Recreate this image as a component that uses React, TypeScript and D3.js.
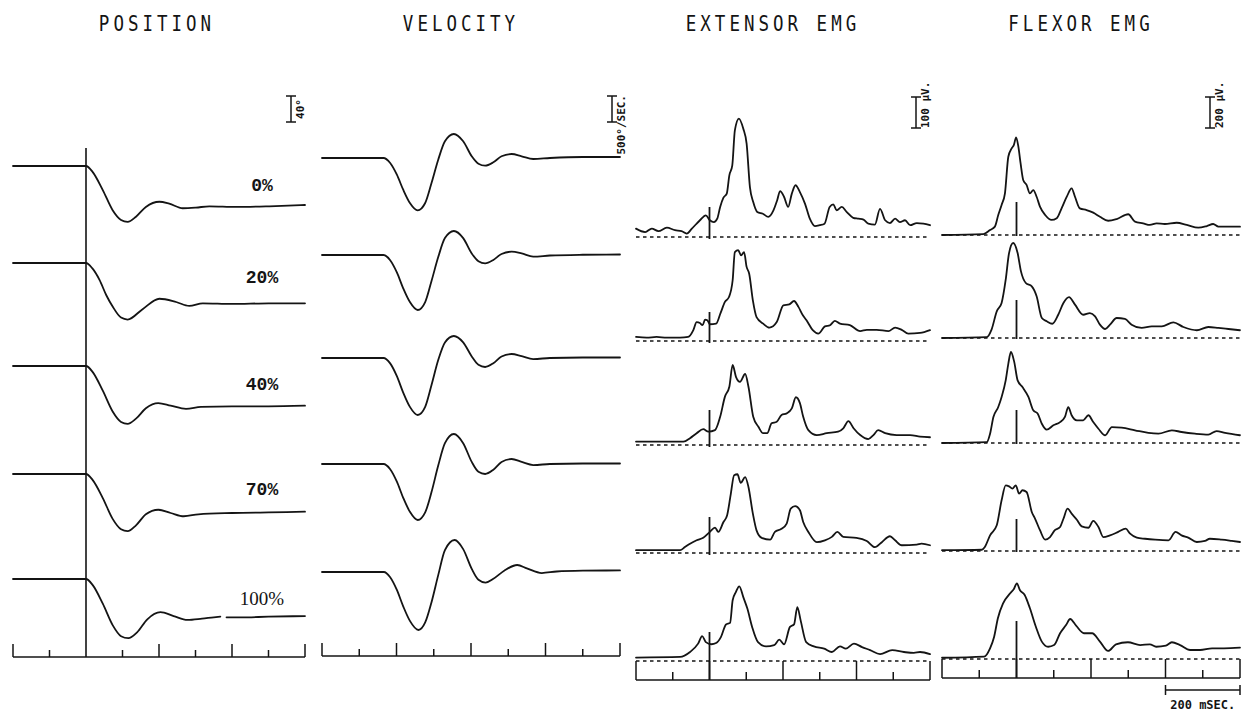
import React from 'react';
import * as d3 from 'd3';

type Pt = [number, number];

const WIDTH = 1244;
const HEIGHT = 715;

const panelTitles = ['POSITION', 'VELOCITY', 'EXTENSOR EMG', 'FLEXOR EMG'];
const conditionLabels = ['0%', '20%', '40%', '70%', '100%'];
const timeDomain: [number, number] = [-200, 600];
const timeTicks = [-200, -100, 0, 100, 200, 300, 400, 500, 600];

// Scale-bar units
const positionUnit = 40; // degrees
const velocityUnit = 500; // deg/sec
const extensorUnit = 100; // µV
const flexorUnit = 200; // µV
const timeBarMs = 200;

// Wrist position (deg), [ms, value]; NaN marks a break in the pen trace
const position0: Pt[] = [[-200, 0], [0, 0], [18, -9], [46, -37], [73, -68], [96, -83], [114, -86], [137, -78], [164, -63], [201, -55], [228, -58], [265, -65], [301, -64], [338, -62], [411, -63], [502, -62], [600, -60]];
const position20: Pt[] = [[-200, 0], [0, 0], [17, -8], [37, -26], [56, -50], [73, -67], [96, -84], [114, -87], [155, -71], [201, -55], [247, -60], [283, -66], [320, -62], [400, -63], [500, -62], [600, -62]];
const position40: Pt[] = [[-200, 0], [0, 0], [18, -9], [46, -38], [73, -70], [96, -86], [114, -89], [137, -81], [164, -65], [198, -57], [232, -61], [274, -66], [315, -63], [400, -62], [500, -62], [600, -61]];
const position70: Pt[] = [[-200, 0], [0, 0], [18, -9], [46, -37], [73, -69], [96, -85], [114, -88], [137, -79], [164, -62], [198, -55], [232, -60], [268, -65], [308, -62], [400, -60], [500, -59], [600, -58]];
const position100: Pt[] = [[-200, 0], [0, 0], [18, -9], [46, -38], [73, -71], [96, -88], [116, -91], [140, -82], [168, -62], [204, -51], [240, -57], [278, -63], [318, -61], [350, -59], [368, -58], [376, NaN], [385, -59], [424, -59], [500, -58], [600, -57]];
const positionSeries = [position0, position20, position40, position70, position100];

// Angular velocity (deg/sec)
const velocity0: Pt[] = [[-200, 0], [-35, 0], [-17, -96], [1, -321], [18, -610], [36, -865], [57, -1006], [77, -865], [94, -481], [112, -33], [130, 321], [154, 462], [179, 321], [202, 33], [220, -110], [238, -148], [260, -83], [282, 33], [309, 77], [336, 33], [367, -19], [412, 0], [500, 19], [600, 19]];
const velocity20: Pt[] = [[-200, 0], [-35, 0], [-17, -100], [1, -335], [18, -640], [36, -905], [57, -1058], [77, -905], [94, -500], [112, -40], [130, 325], [154, 462], [179, 325], [202, 30], [220, -120], [238, -160], [260, -95], [282, 20], [309, 64], [336, 30], [367, -32], [412, -10], [500, 5], [600, 10]];
const velocity40: Pt[] = [[-200, 0], [-35, 0], [-17, -104], [1, -350], [18, -665], [36, -940], [57, -1096], [77, -940], [94, -520], [112, -40], [130, 300], [154, 423], [179, 300], [202, 30], [220, -130], [238, -173], [260, -100], [282, 30], [309, 77], [336, 35], [367, -20], [412, 0], [500, 10], [600, 10]];
const velocity70: Pt[] = [[-200, 0], [-35, 0], [-17, -100], [1, -340], [18, -650], [36, -920], [57, -1077], [77, -930], [94, -540], [112, -30], [130, 400], [154, 577], [179, 400], [202, 40], [220, -150], [238, -192], [260, -110], [282, 40], [309, 96], [336, 40], [367, -20], [412, 0], [500, 10], [600, 10]];
const velocity100: Pt[] = [[-200, 0], [-34, 0], [-17, -100], [1, -345], [18, -660], [36, -940], [59, -1115], [77, -970], [94, -580], [112, -60], [130, 420], [156, 615], [179, 440], [202, 60], [220, -150], [239, -204], [260, -130], [290, 30], [324, 135], [350, 70], [390, -20], [430, 10], [500, 25], [600, 30]];
const velocitySeries = [velocity0, velocity20, velocity40, velocity70, velocity100];

// Rectified extensor EMG (µV)
const extensor0: Pt[] = [[-200, 27], [-175, 16], [-157, 27], [-139, 19], [-116, 30], [-94, 22], [-76, 19], [-62, 11], [-48, 27], [-26, 54], [-10, 70], [1, 54], [12, 48], [21, 59], [29, 97], [38, 127], [47, 140], [54, 199], [62, 231], [69, 344], [80, 382], [92, 349], [101, 301], [110, 161], [119, 113], [130, 81], [145, 75], [160, 65], [174, 86], [184, 118], [192, 148], [203, 129], [214, 97], [224, 140], [234, 167], [246, 145], [260, 107], [273, 59], [287, 35], [300, 38], [313, 43], [327, 97], [337, 105], [346, 86], [360, 97], [373, 81], [391, 62], [405, 59], [419, 56], [432, 43], [450, 40], [464, 91], [478, 54], [491, 45], [505, 59], [518, 48], [532, 54], [546, 38], [564, 45], [582, 43], [600, 38]];
const extensor20: Pt[] = [[-200, 13], [-171, 11], [-144, 13], [-116, 11], [-80, 11], [-58, 13], [-44, 35], [-35, 61], [-26, 58], [-19, 51], [-12, 69], [-6, 67], [1, 54], [18, 56], [30, 90], [42, 126], [53, 142], [63, 196], [69, 287], [78, 293], [86, 276], [94, 287], [101, 239], [108, 217], [118, 131], [128, 77], [146, 56], [163, 43], [183, 61], [201, 115], [217, 118], [230, 129], [242, 110], [254, 83], [264, 67], [281, 35], [296, 24], [314, 47], [328, 51], [341, 65], [355, 56], [382, 51], [410, 32], [428, 36], [455, 36], [487, 32], [505, 43], [523, 36], [541, 24], [573, 26], [600, 35]];
const extensor40: Pt[] = [[-200, 11], [-71, 11], [-53, 22], [-35, 38], [-17, 51], [-3, 43], [15, 48], [29, 91], [42, 156], [54, 188], [63, 258], [72, 220], [83, 204], [97, 229], [106, 188], [119, 91], [133, 59], [146, 38], [157, 38], [169, 70], [183, 75], [196, 97], [210, 102], [224, 118], [235, 154], [246, 135], [255, 91], [269, 48], [292, 32], [319, 38], [350, 43], [364, 54], [378, 77], [392, 54], [410, 32], [432, 19], [446, 32], [459, 48], [478, 38], [509, 32], [546, 32], [573, 27], [600, 25]];
const extensor70: Pt[] = [[-200, 9], [-80, 9], [-67, 19], [-53, 30], [-35, 41], [-17, 49], [1, 68], [15, 82], [24, 68], [38, 100], [48, 122], [58, 191], [67, 251], [76, 254], [85, 226], [97, 245], [106, 213], [118, 127], [128, 73], [142, 49], [165, 43], [178, 68], [196, 78], [210, 95], [221, 143], [233, 151], [246, 138], [255, 100], [269, 68], [292, 35], [314, 41], [333, 52], [348, 68], [364, 52], [400, 49], [428, 39], [450, 19], [469, 35], [491, 54], [505, 41], [523, 25], [564, 27], [577, 30], [600, 25]];
const extensor100: Pt[] = [[-200, 11], [-80, 13], [-53, 29], [-31, 56], [-20, 80], [-10, 61], [5, 54], [18, 58], [31, 77], [45, 118], [56, 123], [63, 196], [72, 223], [81, 241], [92, 206], [103, 169], [116, 110], [132, 61], [154, 47], [176, 51], [190, 69], [203, 54], [219, 110], [230, 118], [239, 174], [248, 131], [263, 61], [284, 47], [312, 40], [333, 29], [355, 47], [371, 40], [393, 56], [415, 45], [437, 35], [464, 22], [497, 35], [529, 29], [556, 26], [573, 29], [600, 22]];
const extensorSeries = [extensor0, extensor20, extensor40, extensor70, extensor100];

// Rectified flexor EMG (µV)
const flexor0: Pt[] = [[-200, 0], [-89, 6], [-71, 32], [-58, 54], [-49, 129], [-40, 194], [-31, 269], [-22, 505], [-13, 559], [-7, 581], [-1, 630], [5, 570], [11, 462], [18, 355], [27, 323], [36, 269], [45, 290], [54, 247], [63, 183], [77, 129], [94, 97], [108, 108], [121, 172], [135, 247], [148, 301], [157, 247], [170, 172], [188, 161], [206, 144], [224, 118], [246, 92], [269, 103], [300, 134], [318, 86], [340, 75], [358, 65], [376, 75], [398, 71], [430, 79], [457, 65], [488, 47], [511, 58], [528, 71], [542, 54], [573, 54], [600, 54]];
const flexor20: Pt[] = [[-200, 0], [-80, 5], [-67, 54], [-53, 172], [-40, 226], [-29, 376], [-20, 548], [-9, 613], [3, 548], [12, 430], [25, 355], [41, 333], [54, 269], [68, 129], [81, 108], [96, 92], [112, 150], [126, 226], [141, 264], [157, 215], [179, 150], [197, 161], [211, 140], [224, 86], [238, 58], [251, 86], [269, 129], [291, 123], [309, 86], [336, 65], [363, 75], [390, 75], [421, 101], [448, 71], [484, 50], [515, 71], [542, 65], [569, 58], [600, 50]];
const flexor40: Pt[] = [[-200, 0], [-80, 5], [-71, 60], [-62, 168], [-49, 232], [-40, 297], [-29, 404], [-22, 511], [-15, 587], [-6, 522], [3, 404], [16, 361], [32, 297], [45, 211], [57, 189], [68, 124], [81, 86], [99, 114], [117, 135], [130, 168], [139, 232], [148, 179], [162, 146], [179, 146], [193, 179], [206, 135], [220, 92], [238, 50], [256, 103], [282, 99], [318, 82], [354, 65], [381, 60], [417, 82], [443, 71], [479, 60], [515, 54], [537, 77], [560, 65], [600, 50]];
const flexor70: Pt[] = [[-200, 5], [-93, 8], [-85, 26], [-71, 101], [-53, 166], [-40, 327], [-29, 424], [-20, 417], [-11, 402], [-2, 424], [7, 370], [16, 392], [27, 381], [41, 252], [50, 208], [63, 134], [77, 73], [90, 90], [103, 134], [117, 155], [126, 208], [137, 273], [148, 241], [162, 202], [175, 159], [193, 150], [206, 194], [220, 155], [233, 90], [251, 101], [273, 123], [293, 144], [305, 112], [323, 86], [345, 79], [372, 73], [408, 69], [427, 123], [443, 101], [461, 86], [484, 58], [506, 65], [519, 79], [551, 73], [578, 65], [600, 58]];
const flexor100: Pt[] = [[-200, 8], [-87, 15], [-71, 69], [-60, 144], [-50, 263], [-36, 359], [-17, 424], [-7, 452], [1, 488], [9, 445], [22, 413], [36, 327], [52, 208], [68, 112], [85, 79], [101, 90], [117, 166], [133, 219], [144, 258], [160, 215], [181, 166], [203, 166], [224, 112], [246, 52], [267, 95], [299, 108], [332, 90], [358, 95], [375, 79], [401, 86], [417, 108], [439, 90], [466, 58], [493, 58], [525, 69], [557, 69], [600, 73]];
const flexorSeries = [flexor0, flexor20, flexor40, flexor70, flexor100];

// Layout: baseline of each condition row in each column
const positionBase = [166, 263, 366, 474, 579];
const velocityBase = [158, 255, 358, 464, 572];
const extensorBase = [237, 341, 445, 553, 661];
const flexorBase = [235, 338, 443, 551, 659];
const extensorMarkTop = [30, 29, 35, 36, 29];
const flexorMarkTop = [33, 38, 33, 32, 38];
const labelY = [191, 283, 390, 495, 605];

const INK = '#141414';
const MONO = '"DejaVu Sans Mono", monospace';

function Trace({ data, x, base, k }: { data: Pt[]; x: d3.ScaleLinear<number, number>; base: number; k: d3.ScaleLinear<number, number> }) {
  const line = d3
    .line<Pt>()
    .defined((d) => Number.isFinite(d[1]))
    .x((d) => x(d[0]))
    .y((d) => base - k(d[1]))
    .curve(d3.curveMonotoneX);
  return <path d={line(data) ?? ''} fill="none" stroke={INK} strokeWidth={1.8} strokeLinejoin="round" strokeLinecap="round" />;
}

function ScaleBar({ x, bottom, k, value, label, anchor }: { x: number; bottom: number; k: d3.ScaleLinear<number, number>; value: number; label: string; anchor: 'start' | 'middle' | 'end' }) {
  const top = bottom - k(value);
  const ly = anchor === 'start' ? bottom : anchor === 'end' ? top - 1 : (top + bottom) / 2;
  return (
    <g stroke={INK} strokeWidth={1.5}>
      <line x1={x} x2={x} y1={top} y2={bottom} />
      <line x1={x - 5} x2={x + 5} y1={top} y2={top} />
      <line x1={x - 5} x2={x + 5} y1={bottom} y2={bottom} />
      <text
        x={0}
        y={0}
        transform={`translate(${x + 13},${ly}) rotate(-90)`}
        textAnchor={anchor}
        fontFamily={MONO}
        fontWeight="bold"
        fontSize={11}
        fill={INK}
        stroke="none"
      >
        {label}
      </text>
    </g>
  );
}

function TickAxis({ x, y, skipZero }: { x: d3.ScaleLinear<number, number>; y: number; skipZero: boolean }) {
  return (
    <g stroke={INK} strokeWidth={1.5}>
      <line x1={x(timeDomain[0])} x2={x(timeDomain[1])} y1={y} y2={y} />
      {timeTicks
        .filter((t) => !(skipZero && t === 0))
        .map((t) => (
          <line key={t} x1={x(t)} x2={x(t)} y1={y} y2={y - (t % 200 === 0 ? 13 : 7)} />
        ))}
    </g>
  );
}

function BoxAxis({ x, top, bottom }: { x: d3.ScaleLinear<number, number>; top: number; bottom: number }) {
  return (
    <g stroke={INK} strokeWidth={1.5}>
      <line x1={x(timeDomain[0])} x2={x(timeDomain[1])} y1={bottom} y2={bottom} />
      {timeTicks.map((t) => (
        <line key={t} x1={x(t)} x2={x(t)} y1={bottom} y2={t % 200 === 0 ? top : bottom - 8} />
      ))}
    </g>
  );
}

export default function App() {
  const posX = d3.scaleLinear().domain(timeDomain).range([13, 305]);
  const velX = d3.scaleLinear().domain(timeDomain).range([322, 620]);
  const extX = d3.scaleLinear().domain(timeDomain).range([636, 930]);
  const flexX = d3.scaleLinear().domain(timeDomain).range([942, 1240]);

  const posK = d3.scaleLinear().domain([0, positionUnit]).range([0, 26]);
  const velK = d3.scaleLinear().domain([0, velocityUnit]).range([0, 26]);
  const extK = d3.scaleLinear().domain([0, extensorUnit]).range([0, 31]);
  const flexK = d3.scaleLinear().domain([0, flexorUnit]).range([0, 31]);

  const titleX = [157, 461, 773, 1081];

  return (
    <svg
      width={WIDTH}
      height={HEIGHT}
      viewBox={`0 0 ${WIDTH} ${HEIGHT}`}
      style={{ position: 'absolute', left: 0, top: 0, background: '#fff' }}
    >
      <rect width={WIDTH} height={HEIGHT} fill="#fff" />

      {panelTitles.map((t, i) => (
        <text
          key={t}
          x={0}
          y={0}
          transform={`translate(${titleX[i]},31) scale(1,1.22)`}
          textAnchor="middle"
          fontFamily={MONO}
          fontSize={17.5}
          letterSpacing={4}
          fill={INK}
        >
          {t}
        </text>
      ))}

      <ScaleBar x={291} bottom={122} k={posK} value={positionUnit} label="40°" anchor="middle" />
      <ScaleBar x={612} bottom={122} k={velK} value={velocityUnit} label="500°/SEC." anchor="end" />
      <ScaleBar x={916} bottom={128} k={extK} value={extensorUnit} label="100 µV." anchor="start" />
      <ScaleBar x={1210} bottom={128} k={flexK} value={flexorUnit} label="200 µV." anchor="start" />

      {/* Position column */}
      <line x1={posX(0)} x2={posX(0)} y1={148} y2={657} stroke={INK} strokeWidth={1.6} />
      {positionSeries.map((d, i) => (
        <Trace key={i} data={d} x={posX} base={positionBase[i]} k={posK} />
      ))}
      {conditionLabels.map((c, i) => (
        <text
          key={c}
          x={262}
          y={labelY[i]}
          textAnchor="middle"
          fontFamily={i === 4 ? '"Liberation Serif", serif' : '"Liberation Mono", monospace'}
          fontWeight={i === 4 ? 'normal' : 'bold'}
          fontSize={i === 4 ? 19 : 18}
          fill={INK}
        >
          {c}
        </text>
      ))}
      <TickAxis x={posX} y={657} skipZero />

      {/* Velocity column */}
      {velocitySeries.map((d, i) => (
        <Trace key={i} data={d} x={velX} base={velocityBase[i]} k={velK} />
      ))}
      <TickAxis x={velX} y={656} skipZero={false} />

      {/* Extensor EMG column */}
      {extensorSeries.map((d, i) => (
        <g key={i}>
          <line x1={extX(-200)} x2={extX(600)} y1={extensorBase[i]} y2={extensorBase[i]} stroke={INK} strokeWidth={1.5} strokeDasharray="3.5 3.5" />
          <line x1={extX(0)} x2={extX(0)} y1={extensorBase[i] - extensorMarkTop[i]} y2={i === 4 ? 680 : extensorBase[i] + 2} stroke={INK} strokeWidth={1.8} />
          <Trace data={d} x={extX} base={extensorBase[i]} k={extK} />
        </g>
      ))}
      <BoxAxis x={extX} top={661} bottom={680} />

      {/* Flexor EMG column */}
      {flexorSeries.map((d, i) => (
        <g key={i}>
          <line x1={flexX(-200)} x2={flexX(600)} y1={flexorBase[i]} y2={flexorBase[i]} stroke={INK} strokeWidth={1.5} strokeDasharray="3.5 3.5" />
          <line x1={flexX(0)} x2={flexX(0)} y1={flexorBase[i] - flexorMarkTop[i]} y2={i === 4 ? 678 : flexorBase[i] + 1} stroke={INK} strokeWidth={1.8} />
          <Trace data={d} x={flexX} base={flexorBase[i]} k={flexK} />
        </g>
      ))}
      <BoxAxis x={flexX} top={659} bottom={678} />

      {/* Time calibration */}
      <g stroke={INK} strokeWidth={1.5}>
        <line x1={flexX(600 - timeBarMs)} x2={flexX(600)} y1={690} y2={690} />
        <line x1={flexX(600 - timeBarMs)} x2={flexX(600 - timeBarMs)} y1={685} y2={695} />
        <line x1={flexX(600)} x2={flexX(600)} y1={685} y2={695} />
      </g>
      <text x={flexX(500)} y={709} textAnchor="middle" fontFamily={MONO} fontWeight="bold" fontSize={12} fill={INK}>
        200 mSEC.
      </text>
    </svg>
  );
}
